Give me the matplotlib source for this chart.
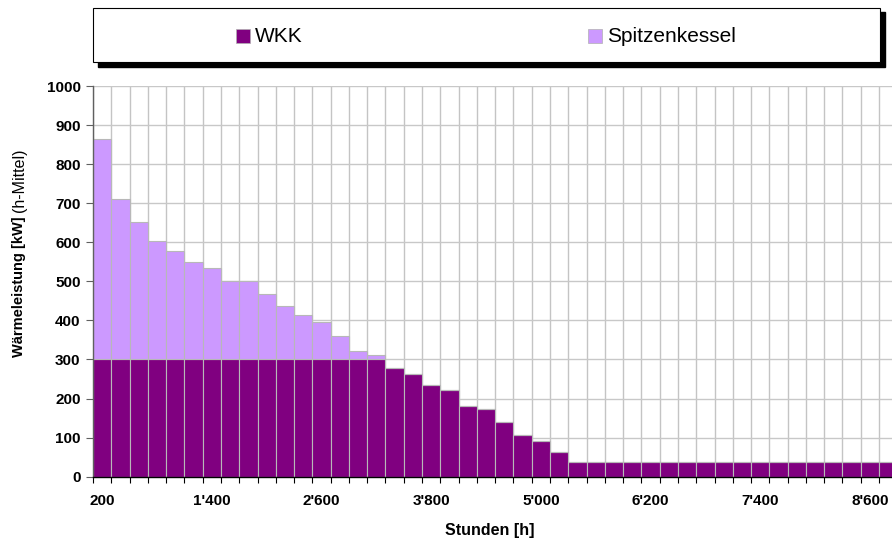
import matplotlib
matplotlib.use("Agg")
import matplotlib.pyplot as plt
import numpy as np
from matplotlib.patches import Rectangle
from matplotlib.ticker import FixedLocator

plt.rcParams["font.family"] = ["Liberation Sans", "DejaVu Sans"]

# ---- data ----
hours = [200, 400, 600, 800, 1000, 1200, 1400, 1600, 1800, 2000, 2200,
         2400, 2600, 2800, 3000, 3200, 3400, 3600, 3800, 4000, 4200, 4400,
         4600, 4800, 5000, 5200, 5400, 5600, 5800, 6000, 6200, 6400, 6600,
         6800, 7000, 7200, 7400, 7600, 7800, 8000, 8200, 8400, 8600, 8800]
wkk = [300, 300, 300, 300, 300, 300, 300, 300, 300, 300, 300, 300, 300,
       300, 300, 300, 277, 263, 235, 221, 181, 174, 139, 106, 92, 62,
       38, 38, 38, 38, 38, 38, 38, 38, 38, 38, 38, 38, 38, 38, 38, 38, 38, 38]
spitzen = [565, 410, 352, 303, 277, 250, 235, 200, 200, 167, 138, 113, 97,
           60, 22, 12, 0, 0, 0, 0, 0, 0, 0, 0, 0, 0, 0, 0, 0, 0, 0, 0, 0,
           0, 0, 0, 0, 0, 0, 0, 0, 0, 0, 0]
tick_labels = ["200", "1'400", "2'600", "3'800", "5'000", "6'200", "7'400", "8'600"]
tick_hours = [200, 1400, 2600, 3800, 5000, 6200, 7400, 8600]
series_names = ["WKK", "Spitzenkessel"]
c_wkk = "#800080"
c_sp = "#CC99FF"

W, H = 892, 541
fig = plt.figure(figsize=(W / 100, H / 100), dpi=100)
fig.patch.set_facecolor("white")

ax = fig.add_axes([93 / W, (H - 476.7) / H, 804.3 / W, 390.7 / H])
x = np.arange(len(hours))
ax.bar(x, wkk, width=1.0, color=c_wkk, edgecolor="#b8b8b8", linewidth=0.8, zorder=2)
ax.bar(x, spitzen, bottom=wkk, width=1.0, color=c_sp, edgecolor="#b8b8b8",
       linewidth=0.8, zorder=2)

ax.set_xlim(-0.5, len(hours) - 0.5)
ax.set_ylim(0, 1000)

# x ticks
major_pos = [hours.index(h) for h in tick_hours]
ax.xaxis.set_major_locator(FixedLocator(major_pos))
ax.set_xticklabels(tick_labels, fontsize=11, fontweight="bold")
ax.xaxis.set_minor_locator(FixedLocator(np.arange(-0.5, len(hours), 1.0)))
ax.tick_params(axis="x", which="major", length=0, pad=12.5)
ax.tick_params(axis="x", which="minor", length=4, width=0.8, color="black", direction="out")

# y ticks
ax.set_yticks(np.arange(0, 1001, 100))
ax.set_yticklabels([str(v) for v in range(0, 1001, 100)], fontsize=11, fontweight="bold")
ax.tick_params(axis="y", which="major", length=5, width=0.8, color="#606060", pad=4)

ax.grid(axis="y", which="major", color="#c8c8c8", linewidth=1.0, zorder=0)
ax.grid(axis="x", which="minor", color="#c4c4c4", linewidth=1.0, zorder=0)
ax.grid(axis="x", which="major", visible=False)
ax.set_axisbelow(True)

for s in ["top", "right"]:
    ax.spines[s].set_visible(False)
ax.spines["left"].set_color("#606060")
ax.spines["bottom"].set_color("black")
ax.spines["left"].set_linewidth(1.0)
ax.spines["bottom"].set_linewidth(1.0)

# labels
fig.text(19 / W, 1 - 357 / H, "Wärmeleistung [kW]", rotation=90, ha="center",
         va="bottom", fontsize=10.5, fontweight="bold")
fig.text(19.5 / W, 1 - 212 / H, "(h-Mittel)", rotation=90, ha="center",
         va="bottom", fontsize=11.5)
fig.text(490 / W, 1 - 531 / H, "Stunden [h]", ha="center", va="center",
         fontsize=11.5, fontweight="bold")

# legend box with shadow
fig.patches.append(Rectangle((97.5 / W, 1 - 66.5 / H), 787 / W, 54 / H,
                             transform=fig.transFigure, facecolor="black",
                             edgecolor="black", zorder=1))
fig.patches.append(Rectangle((93 / W, 1 - 62 / H), 787 / W, 54 / H,
                             transform=fig.transFigure, facecolor="white",
                             edgecolor="black", linewidth=0.8, zorder=2))
legend_items = [(series_names[0], c_wkk, 236, 255), (series_names[1], c_sp, 588, 607.5)]
for name, col, sq_x, tx in legend_items:
    fig.patches.append(Rectangle((sq_x / W, 1 - 42.5 / H), 13.5 / W, 13.5 / H,
                                 transform=fig.transFigure, facecolor=col,
                                 edgecolor="#b0b0b0", linewidth=0.5, zorder=3))
    fig.text(tx / W, 1 - 36 / H, name, ha="left", va="center", fontsize=15, zorder=4)

fig.savefig("out.png", dpi=100, facecolor="white")
